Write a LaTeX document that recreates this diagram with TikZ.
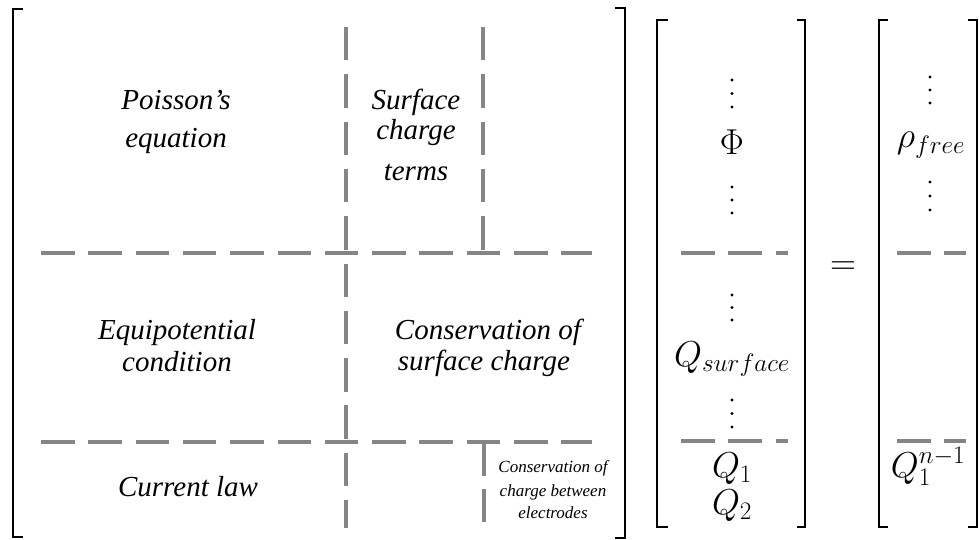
\RequirePackage{fix-cm}
\documentclass[tikz,border=0pt]{standalone}
\usepackage{fontspec}
\setmainfont{Liberation Serif}
\begin{document}
\begin{tikzpicture}[x=1pt,y=-1pt,
  brk/.style={line width=2.6pt,black},
  sep/.style={line width=4pt,color=black!48,dash pattern=on 33.5pt off 13.8pt},
  lbl/.style={anchor=base,inner sep=0pt,font=\fontsize{29}{31}\selectfont\itshape},
  slbl/.style={anchor=base,inner sep=0pt,font=\fontsize{17}{21}\selectfont\itshape},
  mth/.style={anchor=base,inner sep=0pt,font=\fontsize{36}{43}\selectfont},
  vdot/.style={fill=black}]
\useasboundingbox (0,0) rectangle (979,540);
% big bracket
\draw[brk] (23,9) -- (13,9) -- (13,537) -- (23,537);
\draw[brk] (615,8) -- (625,8) -- (625,538) -- (615,538);
% separators of the block matrix
\draw[sep] (41,253) -- (592,253);
\draw[sep] (41,442) -- (592,442);
\draw[sep] (346,27) -- (346,528);
\draw[sep] (483,27) -- (483,253);
\draw[sep] (484,442) -- (484,522);
% block labels
\node[lbl] (p1) at (176,110) {Poisson’s};
\node[lbl] (p2) at (176,148) {equation};
\node[lbl] (s1) at (416,110) {Surface};
\node[lbl] (s2) at (416,140) {charge};
\node[lbl] (s3) at (416,181) {terms};
\node[lbl] (e1) at (177,339) {Equipotential};
\node[lbl] (e2) at (177,371) {condition};
\node[lbl] (c1) at (488,339) {Conservation of};
\node[lbl] (c2) at (484,370) {surface charge};
\node[lbl] (cl) at (188,496) {Current law};
\node[slbl] (k1) at (553,472) {Conservation of};
\node[slbl] (k2) at (553,496) {charge between};
\node[slbl] (k3) at (553,518) {electrodes};
% vector 1
\draw[brk] (668,20) -- (657,20) -- (657,527) -- (668,527);
\draw[brk] (797,20) -- (805,20) -- (805,527) -- (797,527);
\draw[sep] (681,253) -- (788,253);
\draw[sep] (681,441) -- (788,441);
\foreach \yy in {80,93.5,107,187,200,213,295,307.5,320,400,413.5,427}
  \fill[vdot] (732,\yy) circle (1.7);
\node[mth] (phi) at (732,155) {$\Phi$};
\node[mth] (qs) at (732,366) {$Q_{surface}$};
\node[mth] (q1) at (732,477) {$Q_1$};
\node[mth] (q2) at (732,514) {$Q_2$};
% equals
\node[font=\fontsize{36}{43}\selectfont,inner sep=0pt] (eq) at (843,268) {$=$};
% vector 2
\draw[brk] (888,20) -- (879,20) -- (879,527) -- (888,527);
\draw[brk] (968,20) -- (977,20) -- (977,527) -- (968,527);
\draw[sep] (897,253) -- (966,253);
\draw[sep] (897,441) -- (966,441);
\foreach \yy in {77,90,103,182,196,210}
  \fill[vdot] (930,\yy) circle (1.7);
\node[mth] (rho) at (931,148) {$\rho_{free}$};
\node[mth] (qn) at (928,477) {$Q_1^{n-1}$};
\end{tikzpicture}
\end{document}
